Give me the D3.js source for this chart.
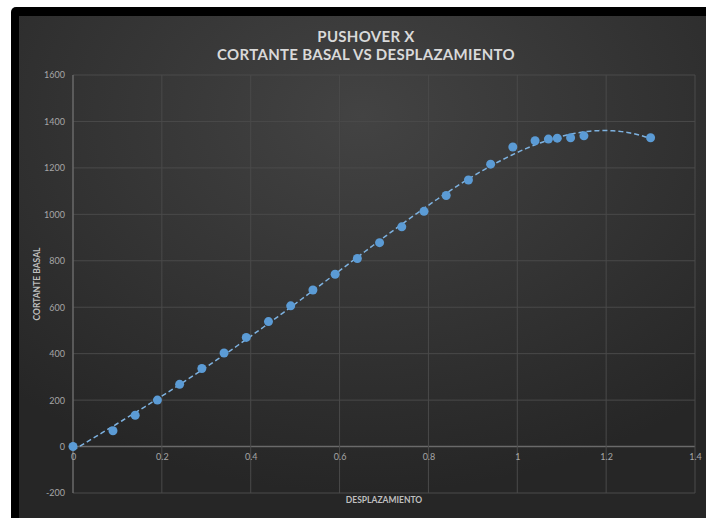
<!DOCTYPE html>
<html>
<head>
<meta charset="utf-8">
<script src="https://cdn.jsdelivr.net/npm/d3@7"></script>
<style>
  html, body { margin: 0; padding: 0; background: #ffffff; }
  svg { display: block; }
</style>
</head>
<body>
<svg id="chart" width="706" height="518"></svg>
<script>
// Pushover curve: base shear vs roof displacement
const desplazamiento = [0, 0.09, 0.14, 0.19, 0.24, 0.29, 0.34, 0.39, 0.44, 0.49, 0.54, 0.59, 0.64, 0.69, 0.74, 0.79, 0.84, 0.89, 0.94, 0.99, 1.04, 1.07, 1.09, 1.12, 1.15, 1.30];
const cortante = [0, 68, 135, 200, 268, 336, 403, 470, 538, 606, 674, 742, 810, 878, 946, 1013, 1081, 1148, 1216, 1290, 1317, 1324, 1328, 1330, 1338, 1330];
const xTicks = [0, 0.2, 0.4, 0.6, 0.8, 1, 1.2, 1.4];
const yTicks = [-200, 0, 200, 400, 600, 800, 1000, 1200, 1400, 1600];
const tituloLineas = ["PUSHOVER X", "CORTANTE BASAL VS DESPLAZAMIENTO"];
const tituloX = "DESPLAZAMIENTO";
const tituloY = "CORTANTE BASAL";
const ordenTendencia = 4;

const svg = d3.select("#chart");
const W = 706, H = 518;
const font = "Lato, 'Open Sans', sans-serif";

// Background frame and gradient panel
const defs = svg.append("defs");
const grad = defs.append("radialGradient").attr("id", "bg")
  .attr("cx", "50%").attr("cy", "20%").attr("r", "75%");
grad.append("stop").attr("offset", "0%").attr("stop-color", "#434343");
grad.append("stop").attr("offset", "100%").attr("stop-color", "#262626");

svg.append("rect").attr("x", 0).attr("y", 0).attr("width", W).attr("height", H).attr("fill", "#ffffff");
svg.append("rect").attr("x", 11).attr("y", 7).attr("width", W).attr("height", H).attr("rx", 5).attr("fill", "#000000");
svg.append("rect").attr("x", 19).attr("y", 16).attr("width", W - 19).attr("height", H - 16).attr("fill", "url(#bg)");

// Scales
const x = d3.scaleLinear().domain([0, 1.4]).range([73, 695]);
const y = d3.scaleLinear().domain([-200, 1600]).range([493, 75]);

// Gridlines
const grid = svg.append("g");
grid.selectAll("line.h").data(yTicks).join("line")
  .attr("x1", x(0)).attr("x2", x(1.4))
  .attr("y1", d => y(d)).attr("y2", d => y(d))
  .attr("stroke", d => d === 0 ? "#6a6a6a" : "#4a4a4a")
  .attr("stroke-width", d => d === 0 ? 1.5 : 1);
grid.selectAll("line.v").data(xTicks).join("line")
  .attr("y1", y(-200)).attr("y2", y(1600))
  .attr("x1", d => x(d)).attr("x2", d => x(d))
  .attr("stroke", d => d === 0 ? "#6a6a6a" : "#4a4a4a")
  .attr("stroke-width", d => d === 0 ? 1.5 : 1);

// Axes (labels only)
const yAxis = svg.append("g").attr("transform", `translate(${x(0)},0)`)
  .call(d3.axisLeft(y).tickValues(yTicks).tickSize(0).tickPadding(8).tickFormat(d => String(d)));
yAxis.select(".domain").remove();
yAxis.selectAll("text").attr("fill", "#a6a6a6").style("font-family", font).style("font-size", "9px");

const xAxis = svg.append("g").attr("transform", `translate(0,${y(0)})`)
  .call(d3.axisBottom(x).tickValues(xTicks).tickSize(0).tickPadding(7).tickFormat(d => String(+d.toFixed(1))));
xAxis.select(".domain").remove();
xAxis.selectAll("text").attr("fill", "#a6a6a6").style("font-family", font).style("font-size", "9px");

// Polynomial trendline (least squares)
function polyFit(xs, ys, n) {
  const m = n + 1;
  const A = Array.from({length: m}, () => new Array(m + 1).fill(0));
  for (let k = 0; k < xs.length; k++) {
    for (let i = 0; i < m; i++) {
      for (let j = 0; j < m; j++) A[i][j] += Math.pow(xs[k], i + j);
      A[i][m] += ys[k] * Math.pow(xs[k], i);
    }
  }
  for (let i = 0; i < m; i++) {
    let p = i;
    for (let r = i + 1; r < m; r++) if (Math.abs(A[r][i]) > Math.abs(A[p][i])) p = r;
    [A[i], A[p]] = [A[p], A[i]];
    for (let r = 0; r < m; r++) {
      if (r === i) continue;
      const f = A[r][i] / A[i][i];
      for (let c = i; c <= m; c++) A[r][c] -= f * A[i][c];
    }
  }
  return A.map((row, i) => row[m] / row[i]);
}
const coef = polyFit(desplazamiento, cortante, ordenTendencia);
const evalPoly = t => coef.reduce((s, c, i) => s + c * Math.pow(t, i), 0);
const xMin = d3.min(desplazamiento), xMax = d3.max(desplazamiento);
const trend = d3.range(0, 201).map(i => xMin + (xMax - xMin) * i / 200).map(t => [t, evalPoly(t)]);

svg.append("path").datum(trend)
  .attr("d", d3.line().x(d => x(d[0])).y(d => y(d[1])))
  .attr("fill", "none").attr("stroke", "#7eb2e0").attr("stroke-width", 1.5)
  .attr("stroke-dasharray", "5,3");

// Data points
svg.append("g").selectAll("circle").data(desplazamiento).join("circle")
  .attr("cx", d => x(d))
  .attr("cy", (d, i) => y(cortante[i]))
  .attr("r", 4.5)
  .attr("fill", "#5b9bd5");

// Titles
svg.append("text").attr("x", 366).attr("y", 42).attr("text-anchor", "middle")
  .attr("fill", "#d9d9d9").style("font-family", font).style("font-weight", "bold").style("font-size", "15px")
  .style("letter-spacing", "0.3px")
  .text(tituloLineas[0]);
svg.append("text").attr("x", 366).attr("y", 60).attr("text-anchor", "middle")
  .attr("fill", "#d9d9d9").style("font-family", font).style("font-weight", "bold").style("font-size", "15px")
  .style("letter-spacing", "0.3px")
  .text(tituloLineas[1]);

svg.append("text").attr("x", 384).attr("y", 503).attr("text-anchor", "middle")
  .attr("fill", "#bfbfbf").style("font-family", font).style("font-weight", "bold").style("font-size", "8.5px")
  .text(tituloX);
svg.append("text").attr("transform", "translate(40,284) rotate(-90)").attr("text-anchor", "middle")
  .attr("fill", "#bfbfbf").style("font-family", font).style("font-weight", "bold").style("font-size", "8.5px")
  .text(tituloY);
</script>
</body>
</html>
